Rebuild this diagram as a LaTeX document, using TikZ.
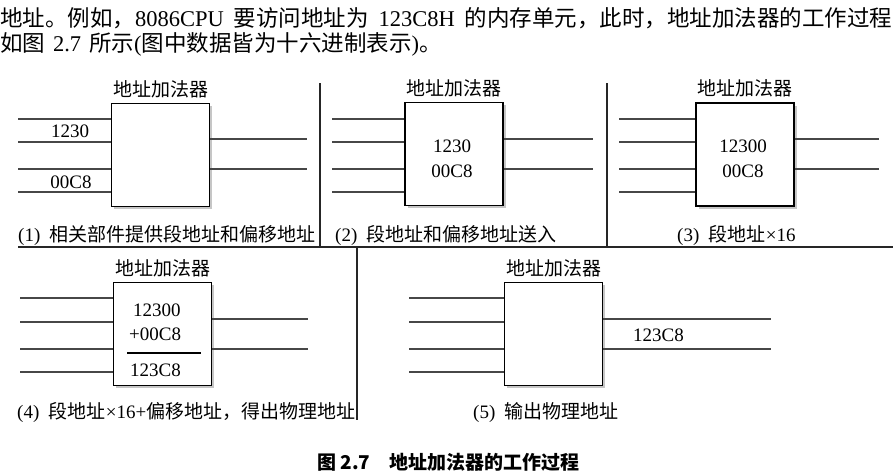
\documentclass[tikz,border=0pt]{standalone}
\usepackage{fontspec}
\setmainfont{Liberation Serif}
\newfontfamily\cjk{Noto Sans CJK SC}
\newcommand\C[1]{{\cjk #1}}
\usetikzlibrary{shadows}
\begin{document}
\begin{tikzpicture}[x=1pt,y=-1pt,
  adder/.style={draw=black, line width=1.8pt, fill=white, minimum width=98pt,
    minimum height=103pt, inner sep=0pt,
    drop shadow={shadow xshift=2.5pt, shadow yshift=-2.5pt, opacity=.45}},
  wire/.style={line width=2.5pt, draw=black!72},
  frame/.style={line width=1.6pt, draw=black!85},
  lbl/.style={font=\fontsize{19}{21}\selectfont, inner sep=0pt},
  para/.style={font=\fontsize{22.5}{26}\selectfont, inner sep=0pt, anchor=base west},
  captxt/.style={font=\fontsize{19}{21}\selectfont, inner sep=0pt, anchor=base west}]
\useasboundingbox (0,0) rectangle (896,475);

% paragraph
\node[para] (p1) at (0,26) {\makebox[892pt][s]{\C{地址。例如，}8086CPU \C{要访问地址为} 123C8H \C{的内存单元，此时，地址加法器的工作过程}}};
\node[para] (p2) at (0,51) {\C{如图}\hspace{0.35em}2.7\hspace{0.35em}\C{所示}(\C{图中数据皆为十六进制表示})\C{。}};

% frame
\coordinate (fl) at (18,247);
\coordinate (fr) at (893,247);
\draw[frame, line width=2pt] (fl) -- (fr);
\coordinate (d1t) at (320,83); \coordinate (d1b) at (320,247);
\coordinate (d2t) at (607,83); \coordinate (d2b) at (607,247);
\coordinate (d3t) at (357,247); \coordinate (d3b) at (357,420);
\draw[frame] (d1t) -- (d1b);
\draw[frame] (d2t) -- (d2b);
\draw[frame] (d3t) -- (d3b);

% boxes
\node[adder] (b1) at (160.5,155) {};
\node[adder] (b2) at (454,154) {};
\node[adder] (b3) at (745,154.5) {};
\node[adder] (b4) at (162.5,334) {};
\node[adder] (b5) at (553.5,334) {};

% titles
\foreach \b in {1,2,3,4,5}{
  \node[lbl, anchor=base] (t\b) at ([yshift=6.5pt]b\b.north) {\C{地址加法器}};
}

% wires top row
\foreach \b/\xs/\xe in {1/18/307, 2/332/593, 3/619/879}{
  \foreach \y [count=\i] in {119,142,169,192}{
    \coordinate (in\b\i) at (\xs,\y);
    \draw[wire] (in\b\i) -- (b\b.west |- in\b\i);
  }
  \foreach \y [count=\i] in {139,169}{
    \coordinate (out\b\i) at (\xe,\y);
    \draw[wire] (b\b.east |- out\b\i) -- (out\b\i);
  }
}
% wires bottom row
\foreach \b/\xs/\xe in {4/20/308, 5/409/771}{
  \foreach \y [count=\i] in {298,322,349,372}{
    \coordinate (in\b\i) at (\xs,\y);
    \draw[wire] (in\b\i) -- (b\b.west |- in\b\i);
  }
  \foreach \y [count=\i] in {319,349}{
    \coordinate (out\b\i) at (\xe,\y);
    \draw[wire] (b\b.east |- out\b\i) -- (out\b\i);
  }
}

% panel 1 labels
\node[lbl, anchor=base] (v1a) at (70,137) {1230};
\node[lbl, anchor=base] (v1b) at (71,188) {00C8};
% panel 2
\node[lbl, anchor=base] (v2a) at (452,152) {1230};
\node[lbl, anchor=base] (v2b) at (452,177) {00C8};
% panel 3
\node[lbl, anchor=base] (v3a) at (743,152) {12300};
\node[lbl, anchor=base] (v3b) at (743,177) {00C8};
% panel 4
\node[lbl, anchor=base west] (v4a) at (133,316) {12300};
\node[lbl, anchor=base west] (v4b) at (129,340) {+00C8};
\coordinate (r4a) at (127,353); \coordinate (r4b) at (201,353);
\draw[line width=1.5pt] (r4a) -- (r4b);
\node[lbl, anchor=base west] (v4c) at (130,376) {123C8};
% panel 5
\node[lbl, anchor=base west] (v5) at (633,341) {123C8};

% captions
\node[captxt] (c1) at (18,241) {(1)\enspace\C{相关部件提供段地址和偏移地址}};
\node[captxt] (c2) at (335,241) {(2)\enspace\C{段地址和偏移地址送入}};
\node[captxt] (c3) at (677,241) {(3)\enspace\C{段地址}×16};
\node[captxt] (c4) at (17,418) {(4)\enspace\C{段地址}×16+\C{偏移地址，得出物理地址}};
\node[captxt] (c5) at (473,418) {(5)\enspace\C{输出物理地址}};

% figure caption
\node[inner sep=0pt, anchor=base west, font=\cjk\bfseries\fontsize{19}{21}\selectfont] (fig) at (317,469) {图 2.7\quad 地址加法器的工作过程};
\end{tikzpicture}
\end{document}
